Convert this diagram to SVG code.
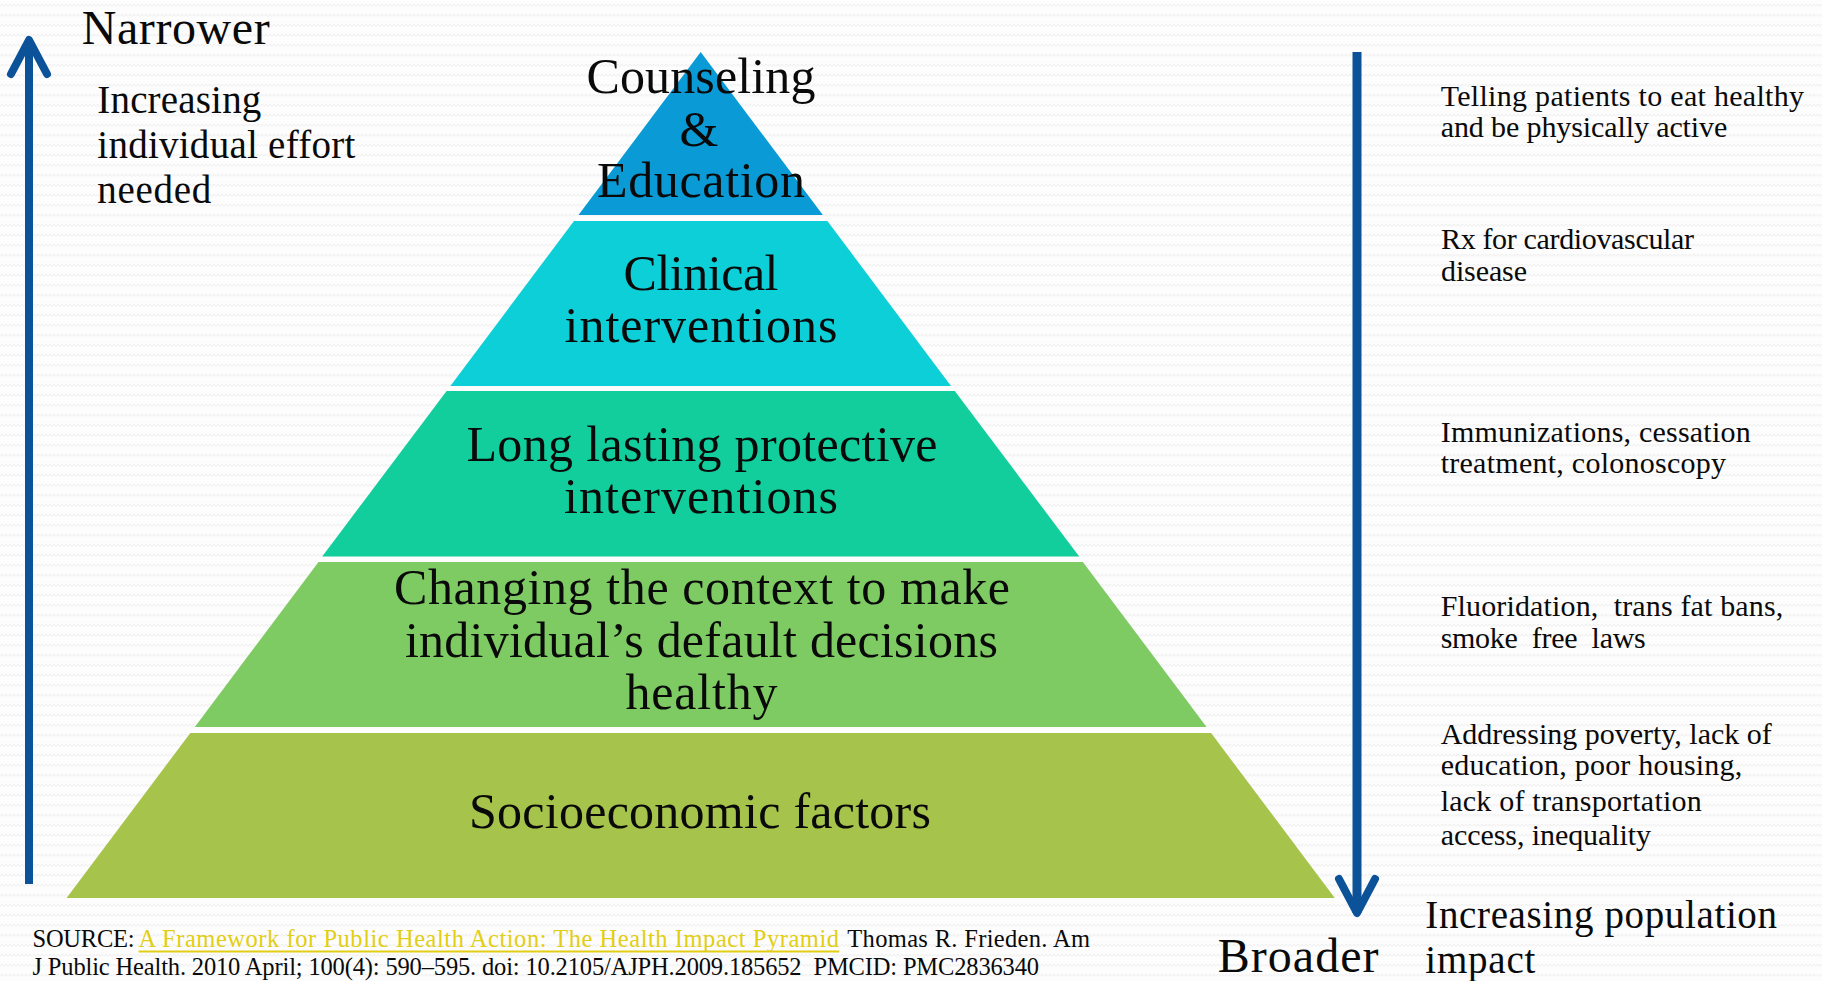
<svg xmlns="http://www.w3.org/2000/svg" width="1822" height="981" viewBox="0 0 1822 981">
  <defs>
    <pattern id="bg" width="8" height="10" patternUnits="userSpaceOnUse">
      <rect width="8" height="10" fill="#fdfdfd"/>
      <path d="M0,6.5 L2,4 L4,6.5 L6,4 L8,6.5" fill="none" stroke="#efefef" stroke-width="1"/>
    </pattern>
    <marker id="chev" markerUnits="userSpaceOnUse" viewBox="-45 -30 55 60" refX="0" refY="0" markerWidth="55" markerHeight="60" orient="auto" overflow="visible">
      <path d="M-34,-18 L0,0 L-34,18" fill="none" stroke="#0C5298" stroke-width="8" stroke-linecap="round" stroke-linejoin="round"/>
    </marker>
    <style>
      text { font-family: "Liberation Serif", "Times New Roman", serif; fill: #0a0a0a; }
      .tier { font-size: 50px; text-anchor: middle; }
      .big { font-size: 48px; }
      .mid { font-size: 39px; }
      .ex { font-size: 30px; }
      .foot { font-size: 24.5px; }
      .link { fill: #E2CE14; }
      .arrow { fill: none; stroke: #0C5298; stroke-linecap: butt; }
    </style>
  </defs>

  <rect x="0" y="0" width="1822" height="981" fill="url(#bg)"/>

  <g id="connectors">
    <path class="arrow" d="M29,884 L29,40" stroke-width="8" marker-end="url(#chev)"/>
    <path class="arrow" d="M1357,52 L1357,913" stroke-width="9" marker-end="url(#chev)"/>
  </g>

  <g id="tier-counseling">
    <polygon points="700.7,52 822.9,215 578.5,215" fill="#0A9BD6"/>
    <text class="tier" x="701" y="93.3" textLength="229">Counseling</text>
    <text class="tier" x="699" y="146">&amp;</text>
    <text class="tier" x="701" y="196.7" textLength="208">Education</text>
  </g>

  <g id="tier-clinical">
    <polygon points="574.0,221 827.4,221 951.0,386 450.4,386" fill="#0DCFD8"/>
    <text class="tier" x="701" y="290" textLength="155">Clinical</text>
    <text class="tier" x="701" y="341.7" textLength="273">interventions</text>
  </g>

  <g id="tier-protective">
    <polygon points="446.6,391 954.8,391 1079.2,556.5 322.2,556.5" fill="#12CE9C"/>
    <text class="tier" x="702" y="461" textLength="471">Long lasting protective</text>
    <text class="tier" x="701" y="513.3" textLength="274">interventions</text>
  </g>

  <g id="tier-context">
    <polygon points="318.5,562 1082.9,562 1206.6,727 194.8,727" fill="#7ECB64"/>
    <text class="tier" x="702" y="604" textLength="616">Changing the context to make</text>
    <text class="tier" x="701.4" y="656.7" textLength="593">individual’s default decisions</text>
    <text class="tier" x="701.5" y="709" textLength="152">healthy</text>
  </g>

  <g id="tier-socioeconomic">
    <polygon points="190.3,733 1211.1,733 1334.8,898 66.6,898" fill="#A6C34B"/>
    <text class="tier" x="700" y="828.3" textLength="462">Socioeconomic factors</text>
  </g>

  <g id="label-narrower">
    <text class="big" x="81.7" y="44.3" textLength="188">Narrower</text>
  </g>

  <g id="label-effort">
    <text class="mid" x="97.3" y="113.3" textLength="164">Increasing</text>
    <text class="mid" x="97.3" y="158.3" textLength="258">individual effort</text>
    <text class="mid" x="97.3" y="203.3" textLength="114">needed</text>
  </g>

  <g id="label-broader">
    <text class="big" x="1217.8" y="971.7" textLength="160.7">Broader</text>
  </g>

  <g id="label-population">
    <text class="mid" x="1425.3" y="928.3" textLength="351.7">Increasing population</text>
    <text class="mid" x="1425.3" y="973" textLength="110">impact</text>
  </g>

  <g id="example-counseling">
    <text class="ex" x="1440.7" y="106" textLength="363.3">Telling patients to eat healthy</text>
    <text class="ex" x="1440.7" y="136.7" textLength="286.6">and be physically active</text>
  </g>

  <g id="example-clinical">
    <text class="ex" x="1441" y="249.3" textLength="253">Rx for cardiovascular</text>
    <text class="ex" x="1441" y="281" textLength="86">disease</text>
  </g>

  <g id="example-protective">
    <text class="ex" x="1440.7" y="441.7" textLength="310">Immunizations, cessation</text>
    <text class="ex" x="1440.7" y="472.7" textLength="285.3">treatment, colonoscopy</text>
  </g>

  <g id="example-context">
    <text class="ex" x="1440.7" y="616" textLength="342.6" xml:space="preserve">Fluoridation,  trans fat bans,</text>
    <text class="ex" x="1440.7" y="648.3" textLength="205" xml:space="preserve">smoke  free  laws</text>
  </g>

  <g id="example-socioeconomic">
    <text class="ex" x="1440.7" y="744" textLength="331">Addressing poverty, lack of</text>
    <text class="ex" x="1440.7" y="775" textLength="301.6">education, poor housing,</text>
    <text class="ex" x="1440.7" y="810.7" textLength="261">lack of transportation</text>
    <text class="ex" x="1440.7" y="845" textLength="210.3">access, inequality</text>
  </g>

  <g id="source">
    <text class="foot" x="32.5" y="947.3" textLength="102">SOURCE:</text>
    <text class="foot link" x="138.5" y="947.3" textLength="700.5">A Framework for Public Health Action: The Health Impact Pyramid</text>
    <line x1="138.5" y1="951.6" x2="839.3" y2="951.6" stroke="#E2CE14" stroke-width="2"/>
    <text class="foot" x="847.3" y="947.3" textLength="242.7">Thomas R. Frieden. Am</text>
    <text class="foot" x="32.5" y="975" textLength="1006.5" xml:space="preserve">J Public Health. 2010 April; 100(4): 590–595. doi: 10.2105/AJPH.2009.185652  PMCID: PMC2836340</text>
  </g>
</svg>
